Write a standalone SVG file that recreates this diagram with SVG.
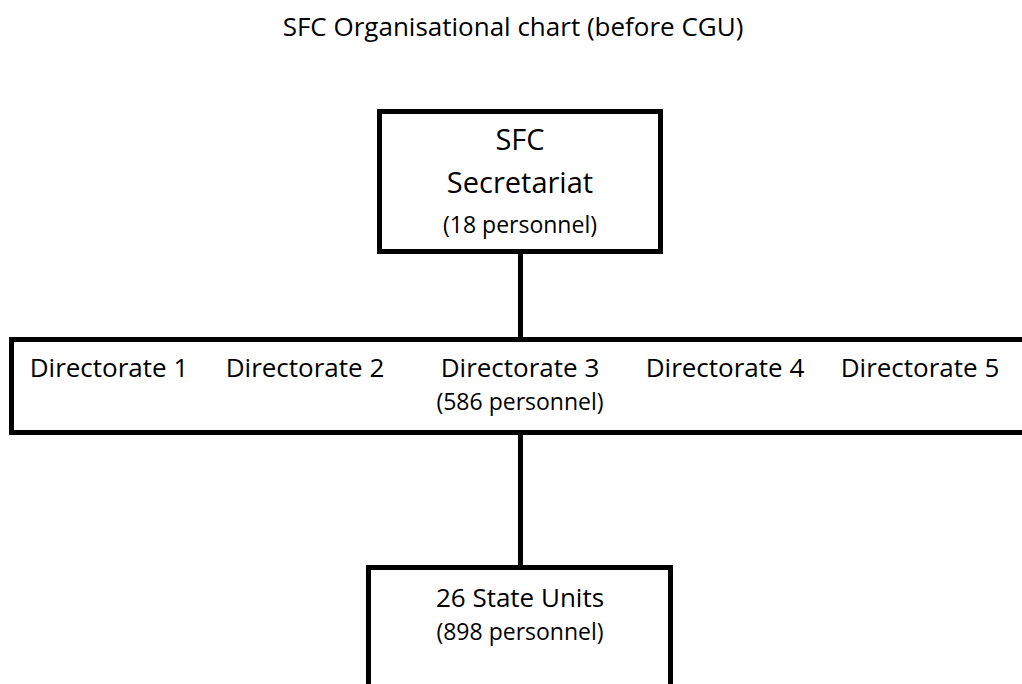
<svg xmlns="http://www.w3.org/2000/svg" width="1022" height="684" viewBox="0 0 1022 684">
  <style>
    text { font-family: "Open Sans", "Noto Sans", "Liberation Sans", sans-serif; fill: #000; text-anchor: middle; }
    .box { fill: #fff; stroke: #000; stroke-width: 5; }
    .conn { stroke: #000; stroke-width: 5; fill: none; }
    .t26 { font-size: 26px; }
    .t29 { font-size: 29px; }
    .t23 { font-size: 23px; }
  </style>
  <rect x="0" y="0" width="1022" height="684" fill="#fff"/>
  <text class="t26" x="513" y="36">SFC Organisational chart (before CGU)</text>
  <g id="connectors">
    <line class="conn" x1="520.5" y1="252" x2="520.5" y2="340"/>
    <line class="conn" x1="520.5" y1="432" x2="520.5" y2="568"/>
  </g>
  <g id="secretariat">
    <rect class="box" x="379.5" y="111.5" width="281" height="140"/>
    <text class="t29" x="520" y="150">SFC</text>
    <text class="t29" x="520" y="193">Secretariat</text>
    <text class="t23" x="520" y="233">(18 personnel)</text>
  </g>
  <g id="directorates">
    <rect class="box" x="11.5" y="339.5" width="1030" height="93"/>
    <text class="t26" x="109" y="377">Directorate 1</text>
    <text class="t26" x="305" y="377">Directorate 2</text>
    <text class="t26" x="520" y="377">Directorate 3</text>
    <text class="t26" x="725" y="377">Directorate 4</text>
    <text class="t26" x="920" y="377">Directorate 5</text>
    <text class="t23" x="520" y="410">(586 personnel)</text>
  </g>
  <g id="state-units">
    <rect class="box" x="368.5" y="567.5" width="302" height="140"/>
    <text class="t26" x="520" y="607">26 State Units</text>
    <text class="t23" x="520" y="640">(898 personnel)</text>
  </g>
</svg>
